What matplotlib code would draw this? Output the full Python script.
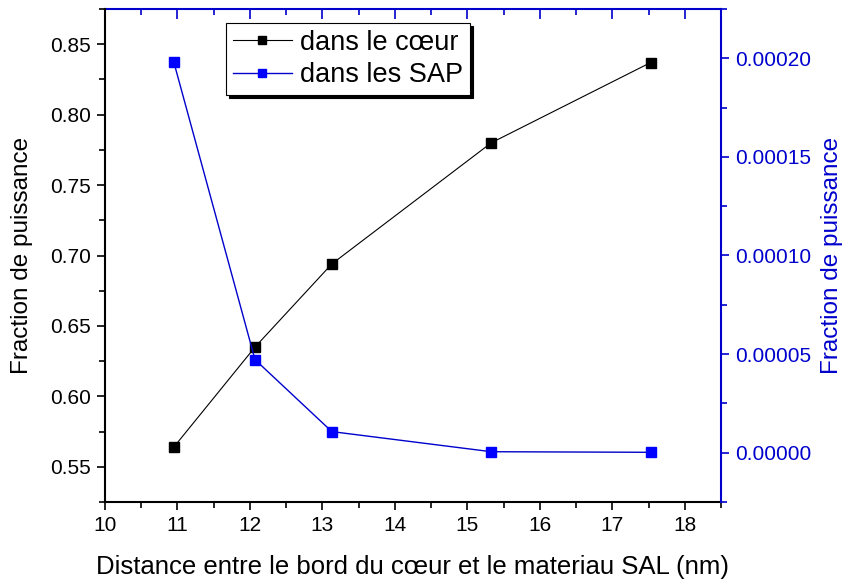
import matplotlib.pyplot as plt
from matplotlib.ticker import MultipleLocator

plt.rcParams['font.family'] = ['Liberation Sans', 'DejaVu Sans']

distance = [10.95, 12.07, 13.13, 15.33, 17.53]
coeur = [0.564, 0.635, 0.694, 0.780, 0.837]
distance_sap = [10.95, 12.07, 13.13, 15.33, 17.53]
sap = [0.000198, 0.0000472, 0.0000107, 0.0000005, 0.0000002]

blue = '#0000CC'
fig = plt.figure(figsize=(8.45, 5.82), dpi=100)
ax = fig.add_axes([105 / 845, 80 / 582, 616 / 845, 493 / 582])
ax2 = ax.twinx()

l1, = ax.plot(distance, coeur, color='black', lw=0.8, marker='s', ms=7, label='dans le cœur')
l2, = ax2.plot(distance_sap, sap, color=blue, lw=1.0, marker='s', ms=7,
               markerfacecolor='#0000FF', markeredgecolor='#0000FF', label='dans les SAP')

ax.set_xlim(10, 18.5)
ax.set_ylim(0.525, 0.875)
ax2.set_ylim(-0.000025, 0.000225)

ax.xaxis.set_major_locator(MultipleLocator(1))
ax.xaxis.set_minor_locator(MultipleLocator(0.5))
ax.yaxis.set_major_locator(MultipleLocator(0.05))
ax.yaxis.set_minor_locator(MultipleLocator(0.025))
ax2.yaxis.set_major_locator(MultipleLocator(0.00005))
ax2.yaxis.set_minor_locator(MultipleLocator(0.000025))
ax.yaxis.set_major_formatter(plt.FuncFormatter(lambda v, p: '%.2f' % v))
ax2.yaxis.set_major_formatter(plt.FuncFormatter(lambda v, p: '%.5f' % v))

ax.tick_params(axis='both', which='major', direction='out', length=6, width=1.2,
               labelsize=15, pad=4)
ax.tick_params(axis='both', which='minor', direction='out', length=4, width=1.2)
ax.tick_params(axis='x', which='both', top=False)
ax2.tick_params(axis='y', which='major', direction='out', length=6, width=1.2,
                colors=blue, labelsize=15, pad=4)
ax2.tick_params(axis='y', which='minor', direction='out', length=4, width=1.2, colors=blue)

for s in ['left', 'bottom']:
    ax.spines[s].set_linewidth(1.5)
ax2.spines['right'].set_color(blue)
ax2.spines['right'].set_linewidth(1.5)
ax.spines['top'].set_visible(False)
ax.spines['right'].set_visible(False)
ax2.spines['top'].set_visible(False)
ax2.spines['left'].set_visible(False)
ax2.spines['bottom'].set_visible(False)

# blue top axis with ticks pointing into the plot
ax_top = ax.secondary_xaxis('top')
ax_top.xaxis.set_major_locator(MultipleLocator(1))
ax_top.xaxis.set_minor_locator(MultipleLocator(0.5))
ax_top.tick_params(axis='x', which='major', direction='in', length=7, width=1.2,
                   color=blue, labeltop=False)
ax_top.tick_params(axis='x', which='minor', direction='in', length=4, width=1.2, color=blue)
ax_top.spines['top'].set_color(blue)
ax_top.spines['top'].set_linewidth(1.5)

ax.set_xlabel('Distance entre le bord du cœur et le materiau SAL (nm)', fontsize=18.5)
ax.set_ylabel('Fraction de puissance', fontsize=17.5)
ax2.set_ylabel('Fraction de puissance', fontsize=17.5, color=blue)
ax.xaxis.set_label_coords(0.5, -0.108)
ax.yaxis.set_label_coords(-0.117, 0.5)
ax2.yaxis.set_label_coords(1.163, 0.5)

leg = ax.legend([l1, l2], ['dans le cœur', 'dans les SAP'], loc='upper left',
                bbox_to_anchor=(0.196, 0.972), fontsize=19.5, frameon=True, fancybox=False,
                shadow={'color': 'black', 'alpha': 1}, handlelength=2.2, borderpad=0.25,
                labelspacing=0.25, handletextpad=0.3, markerscale=0.75, borderaxespad=0)
leg.get_frame().set_edgecolor('black')
leg.get_frame().set_linewidth(0.8)
leg.set_zorder(10)

fig.savefig('out.png', dpi=100)
